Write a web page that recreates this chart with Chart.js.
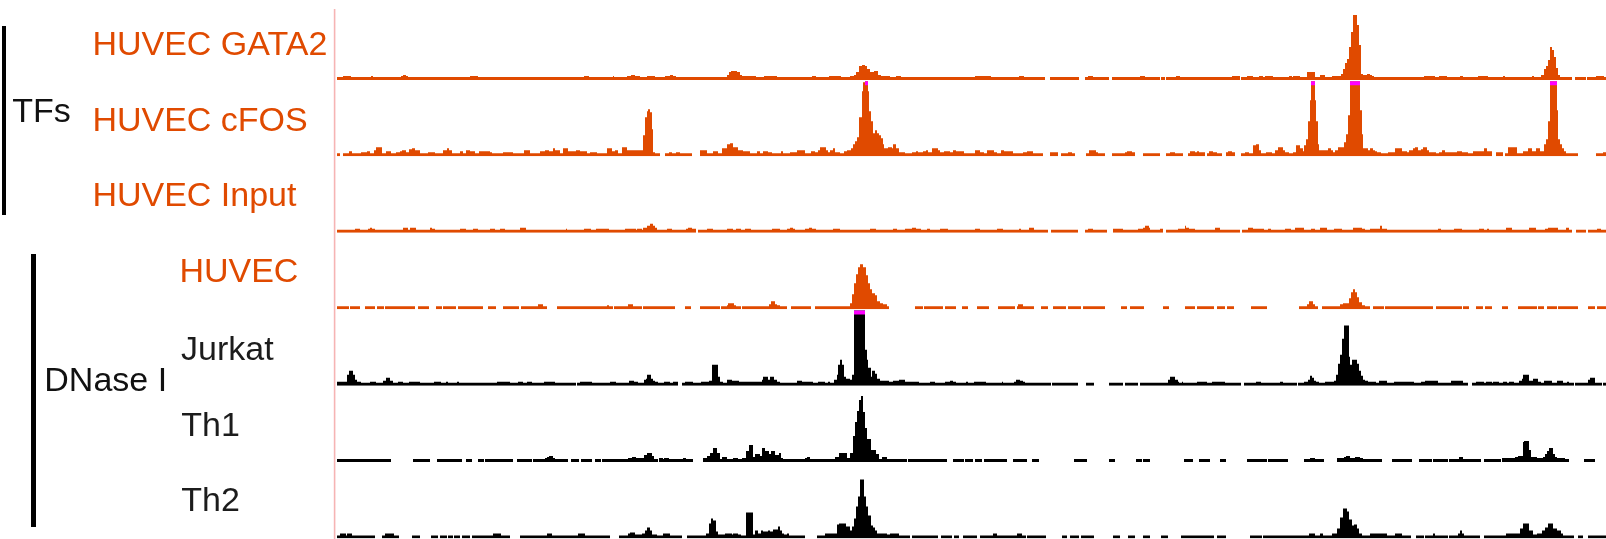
<!DOCTYPE html>
<html>
<head>
<meta charset="utf-8">
<title>Signal tracks</title>
<script src="https://cdn.jsdelivr.net/npm/chart.js@4.4.1/dist/chart.umd.min.js"></script>
<style>
  html, body { margin: 0; padding: 0; background: #ffffff; }
  #wrap { position: relative; width: 1606px; height: 539px; overflow: hidden; background: #fff; }
  #tracks { position: absolute; left: 0; top: 0; }
  .lab { position: absolute; font-family: "Liberation Sans", Arial, Helvetica, sans-serif;
         font-size: 34px; line-height: 34px; white-space: nowrap; }
  .bracket { position: absolute; background: #000; }
</style>
</head>
<body>
<div id="wrap">
  <canvas id="tracks" width="1606" height="539"></canvas>
</div>
<script>
// Locus window in kb (left edge = 0)
const locusStart = 0;
const locusEnd = 126.9;

// Each track: [position kb, signal] change points; a value holds until the next point, 0 = no coverage
const gata2 = [[0,3],[0.6,4],[1.4,3],[3.4,4],[3.6,3],[6.4,4],[6.6,5],[6.9,4],[7.1,3],[13.3,4],[14.1,3],[24.7,4],[25.2,3],[27.6,4],[27.7,3],[29.0,4],[29.4,5],[29.8,4],[30.3,3],[31.0,4],[31.8,3],[32.8,4],[33.3,5],[33.6,4],[33.9,3],[39.0,5],[39.2,8],[39.4,9],[40.0,8],[40.3,5],[40.5,4],[41.9,3],[42.7,4],[44.0,3],[47.5,4],[47.9,3],[49.2,4],[50.4,3],[51.3,4],[51.7,5],[51.9,8],[52.2,14],[52.5,15],[52.8,14],[53.0,11],[53.3,8],[53.7,9],[54.1,5],[54.4,4],[55.3,3],[55.9,4],[56.4,3],[63.8,4],[65.4,3],[68.2,4],[68.7,3],[70.8,0],[71.3,3],[74.2,0],[74.8,3],[75.1,4],[75.6,3],[77.2,0],[77.5,3],[80.3,4],[80.8,3],[82.3,0],[82.4,3],[82.8,0],[82.9,3],[83.9,4],[84.3,3],[89.5,4],[90.3,0],[90.4,3],[91.0,4],[91.6,3],[92.2,4],[92.6,3],[92.8,4],[93.6,3],[95.2,4],[95.5,3],[95.6,4],[96.3,3],[97.0,8],[97.8,3],[98.3,5],[98.8,3],[99.5,4],[100.4,6],[100.6,11],[100.8,17],[101.0,21],[101.2,33],[101.4,48],[101.6,65],[102.0,55],[102.2,35],[102.4,6],[102.6,5],[103.0,6],[103.3,5],[103.5,4],[103.7,3],[108.7,4],[109.8,3],[110.2,4],[111.0,3],[112.3,4],[112.6,3],[114.1,4],[115.1,3],[116.6,4],[116.8,3],[119.5,4],[119.7,3],[120.4,5],[120.7,11],[120.9,14],[121.1,20],[121.3,33],[121.5,30],[121.7,23],[121.9,12],[122.1,5],[122.3,3],[123.5,0],[123.8,3],[124.9,0],[125.0,3],[125.9,4],[126.7,3],[126.9,3]];

const cfos = [[0,3],[0.3,0],[0.6,3],[1.2,5],[1.5,3],[2.4,4],[3.0,5],[3.3,3],[3.7,6],[3.9,9],[4.5,3],[4.9,5],[5.4,3],[5.9,4],[6.3,5],[6.5,6],[6.9,4],[7.2,7],[7.5,8],[7.8,6],[8.3,3],[9.1,4],[9.8,3],[10.6,6],[11.0,8],[11.2,6],[11.5,3],[12.3,5],[12.6,3],[12.9,6],[13.3,5],[13.8,3],[14.2,5],[15.3,4],[15.5,3],[16.6,4],[17.6,3],[18.7,6],[19.3,3],[20.3,5],[20.8,6],[21.2,5],[21.6,8],[21.8,6],[22.3,3],[22.6,8],[23.1,5],[23.9,6],[24.3,5],[25.0,3],[25.3,4],[26.0,3],[27.0,8],[27.5,5],[27.8,6],[28.1,3],[28.5,9],[29.0,6],[30.6,21],[30.8,39],[31.0,45],[31.1,47],[31.3,44],[31.5,27],[31.6,4],[31.8,3],[32.3,0],[32.8,3],[33.2,4],[33.5,3],[33.9,4],[34.3,3],[35.5,0],[36.3,6],[37.0,3],[37.6,5],[38.1,3],[38.5,8],[39.0,12],[39.3,13],[39.6,9],[40.1,6],[40.6,5],[41.3,3],[42.0,5],[42.3,3],[42.6,5],[43.1,4],[43.5,3],[44.4,5],[44.6,3],[45.3,4],[46.0,6],[46.8,3],[47.4,5],[47.8,4],[48.1,6],[48.3,9],[48.9,6],[49.1,4],[49.3,6],[49.6,8],[49.8,4],[50.3,3],[50.7,5],[51.0,6],[51.4,8],[51.6,12],[51.8,15],[52.0,19],[52.2,39],[52.5,65],[52.6,74],[52.8,90],[53.1,65],[53.2,45],[53.4,35],[53.6,23],[53.8,26],[54.0,23],[54.2,21],[54.4,18],[54.6,12],[54.7,8],[55.1,9],[55.5,8],[55.6,12],[55.9,8],[56.2,4],[56.8,3],[57.5,4],[57.9,5],[58.1,4],[58.6,5],[58.9,6],[59.1,4],[59.5,8],[60.1,6],[60.3,4],[60.7,5],[61.3,4],[61.6,6],[61.9,5],[62.7,3],[63.8,6],[64.3,4],[64.7,3],[65.0,6],[65.7,4],[66.0,3],[66.4,6],[66.7,5],[67.6,3],[68.6,4],[69.0,5],[69.6,3],[70.6,0],[71.3,4],[72.1,0],[72.4,3],[73.1,4],[73.5,3],[73.8,0],[74.9,3],[75.2,6],[75.9,4],[76.1,3],[76.8,0],[77.5,3],[78.8,4],[79.0,5],[79.5,4],[79.8,0],[80.6,3],[82.3,0],[82.9,3],[83.3,4],[83.8,3],[84.6,0],[85.1,3],[85.3,5],[85.8,4],[86.0,5],[86.2,4],[86.8,0],[87.0,3],[87.2,5],[87.6,4],[88.0,3],[88.5,0],[88.9,4],[89.1,5],[89.5,4],[89.8,0],[90.4,3],[90.8,4],[91.2,3],[91.6,11],[91.9,12],[92.2,6],[92.4,3],[92.9,4],[93.5,3],[93.8,6],[94.1,9],[94.6,6],[94.8,4],[95.2,3],[95.6,4],[95.9,11],[96.3,8],[96.6,5],[96.7,11],[96.9,17],[97.1,35],[97.3,56],[97.4,90],[97.8,56],[97.9,35],[98.1,12],[98.2,6],[99.1,8],[99.4,6],[99.6,4],[99.8,6],[100.1,9],[100.7,14],[100.9,22],[101.1,41],[101.3,90],[102.3,46],[102.5,22],[102.6,8],[103.1,6],[103.3,8],[103.6,6],[103.8,5],[104.0,4],[104.4,3],[105.1,4],[105.8,8],[106.5,5],[107.0,4],[107.2,6],[107.6,8],[107.8,9],[108.1,6],[108.4,7],[108.6,9],[109.0,6],[109.2,4],[109.9,3],[110.2,4],[110.5,6],[110.8,4],[112.0,5],[112.5,4],[113.1,3],[113.6,5],[114.7,8],[115.0,5],[115.5,0],[115.9,4],[116.6,0],[116.8,3],[117.1,9],[118.0,3],[118.6,5],[119.1,8],[119.5,5],[119.9,8],[120.3,5],[120.7,12],[120.9,17],[121.1,35],[121.3,90],[122.0,46],[122.1,17],[122.3,12],[122.5,8],[122.7,5],[122.9,3],[124.1,0],[125.9,3],[126.6,4],[126.9,4]];

const input = [[0,3],[1.8,4],[2.3,3],[3.1,4],[3.3,5],[3.5,4],[3.8,3],[6.6,5],[7.1,3],[7.3,5],[7.9,3],[9.3,5],[9.5,4],[9.8,3],[12.3,4],[12.9,3],[13.6,4],[14.1,3],[15.3,4],[15.8,3],[16.3,4],[16.8,3],[18.3,5],[18.9,3],[22.9,4],[23.0,3],[24.7,4],[25.4,3],[25.9,4],[27.2,3],[28.8,4],[29.9,3],[30.0,4],[30.5,3],[30.6,5],[31.0,7],[31.3,9],[31.6,7],[31.8,5],[32.0,3],[33.0,4],[33.5,3],[34.9,4],[35.1,5],[35.5,4],[35.9,0],[36.1,3],[37.0,4],[37.6,3],[39.0,4],[39.6,3],[39.9,4],[40.4,3],[40.8,4],[41.4,3],[43.5,4],[44.3,3],[45.0,4],[45.3,5],[45.6,4],[45.8,3],[46.8,4],[47.2,5],[47.5,4],[47.9,3],[49.6,4],[50.3,3],[53.3,4],[53.9,3],[55.6,4],[56.0,3],[56.8,4],[57.5,5],[57.9,4],[58.4,3],[59.0,4],[59.3,3],[60.3,4],[61.1,3],[63.8,4],[64.3,3],[66.0,4],[66.6,3],[68.2,4],[68.4,3],[69.2,5],[69.7,3],[71.1,0],[71.4,3],[74.1,0],[74.8,3],[75.1,4],[75.6,3],[77.0,0],[77.6,4],[78.6,3],[80.1,4],[80.6,5],[80.8,7],[81.2,5],[81.3,3],[82.3,4],[82.6,0],[82.9,3],[84.1,4],[84.8,7],[84.9,5],[85.2,4],[85.8,3],[87.8,5],[88.3,3],[90.3,0],[90.5,3],[91.1,5],[91.6,4],[92.7,3],[93.1,4],[93.4,3],[94.8,4],[95.4,3],[95.8,5],[96.7,3],[97.4,4],[97.8,3],[98.3,5],[99.0,3],[99.7,4],[100.5,3],[101.6,5],[102.5,4],[102.8,3],[103.3,4],[104.3,7],[104.5,4],[105.0,3],[110.1,4],[110.4,3],[111.7,4],[112.5,3],[114.2,4],[114.7,3],[115.0,4],[115.2,3],[116.9,5],[117.5,3],[119.2,5],[119.9,3],[120.8,4],[121.1,5],[122.1,3],[122.9,5],[123.2,3],[123.5,0],[123.9,3],[124.9,0],[125.1,3],[126.0,4],[126.4,3],[126.9,3]];

const dnaseHuvec = [[0,3],[1.2,0],[1.3,3],[2.3,0],[2.8,3],[3.8,0],[4.0,3],[4.7,0],[4.8,3],[7.8,0],[8.1,3],[9.2,0],[9.9,3],[10.5,0],[10.6,3],[11.9,0],[12.1,3],[14.6,0],[15.1,3],[15.9,0],[16.6,3],[18.2,0],[18.4,3],[20.1,5],[20.6,3],[21.0,0],[22.0,3],[27.0,4],[27.2,3],[27.6,0],[27.7,3],[29.1,5],[29.6,3],[30.5,0],[30.6,3],[33.8,0],[34.8,3],[35.4,0],[36.3,3],[38.3,0],[38.4,3],[39.0,4],[39.1,6],[39.7,4],[39.9,3],[40.4,0],[40.5,3],[43.2,5],[43.4,8],[43.8,5],[44.0,4],[44.3,3],[45.0,0],[45.4,3],[47.4,0],[47.8,3],[51.3,6],[51.5,15],[51.7,26],[51.9,35],[52.1,42],[52.3,45],[52.6,42],[52.9,34],[53.1,26],[53.3,20],[53.5,16],[53.8,14],[54.0,8],[54.3,6],[54.6,5],[55.0,3],[55.2,0],[57.8,3],[58.6,0],[58.7,3],[60.6,0],[60.8,3],[61.9,0],[62.5,3],[63.1,0],[64.0,3],[65.2,0],[66.1,3],[67.8,0],[68.0,3],[68.1,5],[68.6,3],[69.7,0],[70.4,3],[71.1,0],[71.6,3],[72.9,0],[73.1,3],[74.4,0],[74.6,3],[76.8,0],[78.4,3],[79.0,0],[79.3,3],[80.7,0],[82.6,3],[83.2,0],[84.8,3],[85.8,0],[86.0,3],[87.7,0],[88.0,3],[88.8,0],[89.0,3],[89.7,0],[91.4,3],[93.0,0],[96.2,3],[97.0,5],[97.2,8],[97.6,5],[97.8,3],[98.1,0],[98.5,3],[100.3,5],[100.6,6],[101.2,11],[101.4,17],[101.6,20],[101.8,17],[102.0,12],[102.2,7],[102.5,4],[102.8,3],[103.3,0],[103.6,3],[104.7,0],[104.8,3],[109.6,0],[109.9,3],[112.5,0],[112.6,3],[113.2,0],[113.9,3],[114.6,0],[114.8,3],[115.5,0],[116.5,3],[117.1,0],[118.1,3],[120.0,0],[120.1,3],[120.7,0],[121.0,3],[122.0,0],[122.1,3],[124.1,0],[125.1,3],[125.8,0],[126.0,3],[126.9,3]];

const dnaseJurkat = [[0,4],[1.0,11],[1.2,15],[1.6,11],[1.8,6],[2.0,4],[2.4,3],[3.3,4],[3.9,3],[4.6,5],[4.9,8],[5.3,5],[5.6,3],[6.1,4],[6.6,3],[7.2,4],[8.3,3],[9.7,4],[10.4,3],[10.9,4],[11.1,3],[12.0,4],[12.2,3],[16.0,4],[17.3,3],[18.1,4],[18.6,3],[19.0,4],[19.5,3],[20.7,4],[21.8,3],[23.9,0],[24.0,3],[24.3,4],[25.5,3],[27.3,4],[27.9,3],[29.2,5],[29.7,4],[30.1,3],[30.7,6],[30.9,7],[31.0,11],[31.4,7],[31.6,5],[31.8,4],[32.1,3],[32.7,4],[33.3,3],[33.6,4],[34.1,0],[34.5,3],[34.8,4],[35.6,3],[36.4,4],[37.2,5],[37.5,21],[38.1,9],[38.3,4],[38.6,3],[39.0,6],[39.5,5],[40.2,4],[42.5,6],[42.6,9],[43.1,6],[43.3,9],[43.7,6],[44.0,4],[44.3,3],[46.0,5],[46.5,4],[47.6,3],[48.1,4],[48.8,3],[49.1,4],[49.3,3],[49.7,6],[50.0,11],[50.1,21],[50.3,26],[50.5,21],[50.7,9],[50.9,7],[51.3,6],[51.5,11],[51.7,90],[52.8,36],[53.0,26],[53.1,18],[53.4,9],[53.5,15],[53.8,12],[54.0,7],[54.3,5],[55.2,4],[55.6,5],[56.2,6],[56.8,4],[58.2,3],[59.3,4],[59.8,3],[60.8,4],[61.3,5],[61.6,4],[61.9,3],[62.9,4],[63.1,3],[63.7,4],[64.9,3],[66.5,4],[66.6,3],[67.7,4],[67.9,6],[68.3,5],[68.6,4],[68.8,3],[71.4,0],[71.5,3],[74.1,0],[74.9,3],[75.7,0],[77.2,3],[78.6,0],[78.8,3],[80.1,0],[80.3,3],[83.1,6],[83.3,9],[83.8,6],[84.1,4],[84.2,3],[84.5,4],[84.6,3],[86.0,4],[87.0,3],[87.5,4],[88.8,3],[90.4,0],[90.7,3],[91.9,4],[92.4,3],[94.3,4],[94.6,3],[96.0,0],[96.1,3],[96.7,4],[97.1,6],[97.3,10],[97.5,8],[97.7,5],[97.9,4],[98.2,3],[98.8,4],[99.7,5],[99.9,11],[100.1,22],[100.3,31],[100.5,47],[100.7,60],[101.2,29],[101.3,21],[101.5,26],[102.0,22],[102.2,15],[102.4,10],[102.6,6],[102.8,5],[103.1,4],[103.9,3],[104.2,5],[105.0,3],[105.7,4],[107.7,3],[108.4,4],[108.8,5],[110.1,3],[111.4,5],[112.6,3],[113.1,0],[113.5,3],[113.9,4],[114.7,3],[114.9,4],[115.5,3],[115.6,4],[116.2,3],[116.6,4],[117.0,3],[117.2,4],[117.7,3],[118.2,5],[118.5,7],[118.6,11],[119.2,5],[119.6,7],[120.1,4],[120.4,3],[120.7,5],[121.5,3],[122.0,5],[122.6,3],[123.0,4],[123.2,3],[123.7,0],[123.8,3],[125.1,6],[125.3,8],[125.8,3],[126.5,0],[126.6,3],[126.9,3]];

const dnaseTh1 = [[0,3],[5.4,0],[7.6,3],[9.3,0],[10.0,3],[12.5,0],[12.9,3],[13.5,0],[14.1,3],[14.7,0],[14.8,3],[17.6,0],[18.0,3],[19.5,0],[19.6,3],[20.8,4],[21.0,5],[21.2,6],[21.6,4],[21.8,3],[23.1,0],[23.4,3],[24.2,0],[24.4,3],[25.5,0],[25.8,3],[26.4,0],[26.5,3],[29.1,4],[29.5,5],[29.9,4],[30.7,7],[31.0,9],[31.5,6],[31.7,3],[32.1,0],[32.2,4],[32.6,3],[32.7,4],[33.2,3],[34.6,4],[34.9,3],[35.6,0],[36.6,4],[37.0,6],[37.3,9],[37.6,14],[38.0,9],[38.3,3],[38.5,5],[39.0,3],[39.6,4],[40.1,3],[40.5,4],[40.9,11],[41.2,17],[41.6,5],[41.8,8],[42.3,6],[42.5,14],[42.8,11],[43.2,8],[43.4,11],[43.8,7],[44.2,9],[44.4,4],[44.6,3],[46.8,4],[47.0,5],[47.3,3],[49.8,5],[50.2,9],[51.0,4],[51.3,9],[51.6,26],[51.8,40],[52.0,51],[52.2,62],[52.4,66],[52.6,50],[52.8,34],[53.0,23],[53.4,12],[53.9,8],[54.2,3],[54.5,5],[55.0,3],[57.0,0],[57.1,3],[61.0,0],[61.6,3],[62.7,0],[62.8,3],[63.6,0],[63.8,3],[64.5,0],[64.7,3],[67.0,0],[67.6,3],[69.0,0],[69.5,3],[70.2,0],[73.7,3],[75.0,0],[77.2,3],[77.8,0],[79.9,3],[80.5,0],[80.6,3],[81.3,0],[84.7,3],[85.6,0],[86.2,3],[87.3,0],[88.3,3],[88.9,0],[91.0,3],[93.0,0],[93.1,3],[95.1,0],[96.7,3],[97.3,4],[97.8,3],[98.7,0],[100.0,4],[100.7,5],[100.9,6],[101.3,4],[101.8,5],[102.3,4],[102.6,3],[104.5,0],[105.5,3],[107.5,0],[108.2,3],[109.5,0],[109.6,3],[111.1,0],[111.2,3],[112.2,5],[112.6,3],[114.4,0],[114.7,3],[116.4,0],[116.5,4],[117.8,5],[118.1,6],[118.6,20],[118.7,21],[119.2,12],[119.4,5],[120.0,4],[120.6,5],[120.8,8],[121.0,11],[121.2,14],[121.6,8],[121.8,5],[122.0,4],[122.8,3],[123.2,0],[124.7,3],[125.8,0],[126.9,0]];

const dnaseTh2 = [[0,3],[0.3,5],[0.9,3],[1.0,5],[1.5,3],[3.8,0],[4.5,3],[4.8,5],[5.7,3],[6.2,0],[7.5,3],[8.3,0],[9.4,3],[10.1,0],[10.3,3],[11.0,0],[11.1,3],[11.6,0],[11.7,3],[12.3,0],[12.5,3],[13.3,0],[13.5,3],[15.6,5],[16.4,3],[17.3,0],[18.3,3],[21.0,5],[21.5,3],[24.1,5],[24.8,3],[27.3,0],[28.2,3],[29.1,5],[29.3,6],[29.8,4],[30.5,5],[30.8,8],[31.0,11],[31.3,8],[31.5,4],[32.0,3],[32.6,5],[33.3,3],[34.5,0],[35.0,3],[36.9,5],[37.2,15],[37.4,20],[37.6,18],[37.9,7],[38.1,4],[38.8,5],[39.5,4],[39.6,5],[40.1,4],[40.4,3],[40.9,26],[41.6,4],[41.8,8],[42.1,5],[42.4,8],[42.6,7],[43.1,8],[43.3,7],[43.6,9],[44.1,12],[44.3,8],[44.5,5],[44.7,4],[45.0,5],[45.2,3],[46.8,0],[48.0,3],[48.8,5],[50.0,14],[50.2,15],[50.9,12],[51.3,8],[51.5,12],[51.7,20],[51.9,32],[52.1,42],[52.3,59],[52.7,42],[52.9,32],[53.1,23],[53.4,13],[53.6,11],[53.8,8],[54.0,5],[55.0,4],[55.3,5],[56.2,3],[57.3,0],[57.5,3],[60.1,0],[60.4,3],[61.5,0],[61.7,3],[62.2,0],[62.6,3],[64.0,0],[64.3,3],[65.6,5],[66.0,3],[68.0,5],[68.5,3],[68.9,0],[69.0,3],[70.9,0],[72.5,3],[73.0,0],[73.3,3],[74.2,0],[74.4,3],[75.7,0],[77.6,3],[78.3,0],[79.1,3],[79.8,0],[80.6,3],[81.3,0],[82.4,3],[83.1,0],[84.4,3],[87.7,0],[88.0,3],[88.9,0],[91.3,3],[92.5,0],[92.6,3],[97.2,5],[97.8,3],[98.3,5],[98.6,3],[99.5,5],[100.0,10],[100.3,21],[100.6,30],[101.0,27],[101.2,19],[101.5,13],[101.7,14],[102.0,10],[102.2,5],[102.5,3],[103.3,5],[105.0,3],[105.8,5],[106.5,3],[107.4,0],[107.9,3],[108.7,0],[108.8,3],[109.6,5],[109.8,3],[111.1,0],[111.2,3],[112.1,5],[112.3,8],[112.5,5],[112.7,3],[114.3,0],[114.7,3],[116.9,5],[118.3,10],[118.6,15],[119.2,8],[119.6,4],[120.0,5],[120.5,8],[120.8,11],[121.1,15],[121.6,10],[122.0,8],[122.4,5],[122.6,3],[123.7,0],[124.1,3],[124.6,0],[125.1,3],[126.9,3]];

// Track order (top to bottom), labels and colours
const trackData   = [gata2, cfos, input, dnaseHuvec, dnaseJurkat, dnaseTh1, dnaseTh2];
const trackNames  = ["HUVEC GATA2", "HUVEC cFOS", "HUVEC Input", "HUVEC", "Jurkat", "Th1", "Th2"];
const trackColors = ["#e04a00", "#e04a00", "#e04a00", "#e04a00", "#000000", "#000000", "#000000"];
const groupNames  = ["TFs", "DNase I"];

// Display limits: signal above viewMax is clipped and flagged in magenta
const viewMax = 75;
const flagDepth = 4;
const trackRange = 76.4;

// Label layout (left panel)
const labelLeft  = [92.4, 92.4, 92.4, 179.4, 181, 181.3, 181.3];
const labelTop   = [26.2, 102.2, 177.2, 253.2, 331.2, 406.8, 482.2];
const groupLeft  = [12.3, 44.3];
const groupTop   = [93.2, 362.2];

const wrap = document.getElementById('wrap');
function addLabel(text, left, top, color) {
  const d = document.createElement('div');
  d.className = 'lab';
  d.textContent = text;
  d.style.left = left + 'px';
  d.style.top = top + 'px';
  d.style.color = color;
  wrap.appendChild(d);
}
function addBracket(left, top, width, height) {
  const d = document.createElement('div');
  d.className = 'bracket';
  d.style.left = left + 'px'; d.style.top = top + 'px';
  d.style.width = width + 'px'; d.style.height = height + 'px';
  wrap.appendChild(d);
}
trackNames.forEach((n, i) => addLabel(n, labelLeft[i], labelTop[i], trackColors[i] === '#000000' ? '#1c1c1c' : trackColors[i]));
groupNames.forEach((n, i) => addLabel(n, groupLeft[i], groupTop[i], '#111111'));
addBracket(1.6, 26, 4, 189);
addBracket(31.2, 254, 4.4, 273);

// One stacked y axis per track; the layout stacks them bottom-up, so register the last track first
const scales = {
  x: { type: 'linear', min: locusStart, max: locusEnd, display: false }
};
for (let i = trackData.length - 1; i >= 0; i--) {
  scales['y' + i] = {
    type: 'linear', position: 'left', stack: 'tracks', stackWeight: 1,
    min: 0, max: trackRange, display: true,
    grid: { display: false, drawTicks: false },
    ticks: { display: false },
    border: { display: false }
  };
}

// Filled step datasets, plus magenta flags where the signal exceeds the view limit
const datasets = [];
trackData.forEach((track, i) => {
  const id = 'y' + i;
  datasets.push({
    label: trackNames[i],
    yAxisID: id, xAxisID: 'x',
    data: track.map(([x, v]) => ({ x: x, y: Math.min(v, viewMax) })),
    stepped: 'before',
    fill: 'origin',
    backgroundColor: trackColors[i],
    borderColor: 'rgba(0,0,0,0)',
    borderWidth: 0,
    pointRadius: 0,
    order: 2
  });
  if (track.some(([, v]) => v > viewMax)) {
    datasets.push({
      label: trackNames[i] + ' clipped',
      yAxisID: id, xAxisID: 'x',
      data: track.map(([x, v]) => ({ x: x, y: v > viewMax ? viewMax : viewMax - flagDepth })),
      stepped: 'before',
      fill: { value: viewMax - flagDepth },
      backgroundColor: '#ff00ff',
      borderColor: 'rgba(0,0,0,0)',
      borderWidth: 0,
      pointRadius: 0,
      order: 1
    });
  }
});

// Thin pink marker line left of the data panel
const panelEdge = {
  id: 'panelEdge',
  afterDraw(chart) {
    const ctx = chart.ctx;
    ctx.save();
    ctx.fillStyle = '#f6b4b4';
    ctx.fillRect(chart.chartArea.left - 3.2, 9, 1.6, chart.height - 9);
    ctx.restore();
  }
};

new Chart(document.getElementById('tracks'), {
  type: 'line',
  data: { datasets: datasets },
  options: {
    responsive: false,
    maintainAspectRatio: false,
    devicePixelRatio: 1,
    animation: false,
    events: [],
    layout: { padding: { left: 337, right: 0, top: 3.5, bottom: 0.5 } },
    scales: scales,
    plugins: {
      legend: { display: false },
      tooltip: { enabled: false },
      filler: { propagate: false }
    },
    elements: { line: { tension: 0 } }
  },
  plugins: [panelEdge]
});
</script>
</body>
</html>
